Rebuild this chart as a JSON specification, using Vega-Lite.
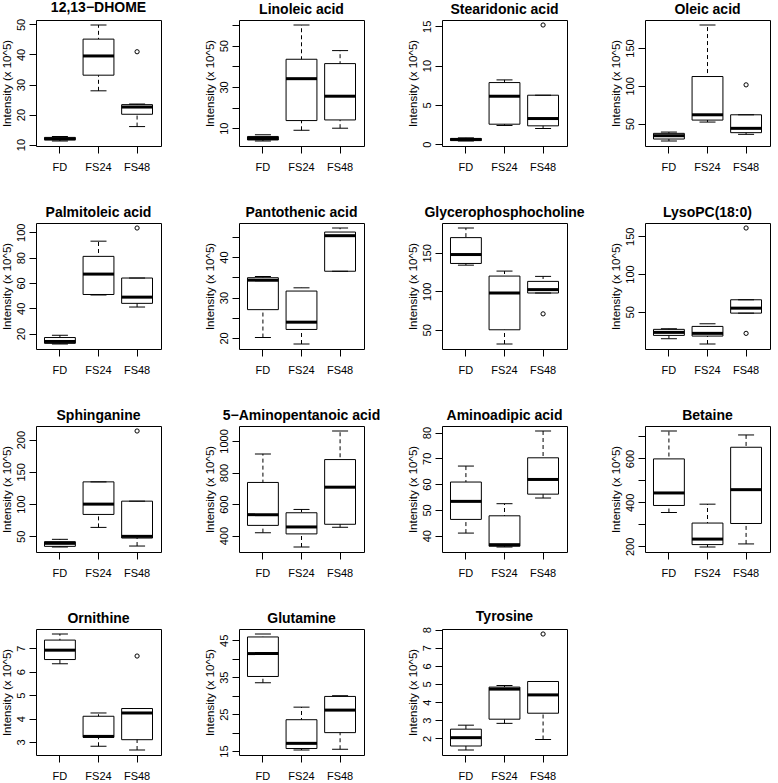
{
"$schema": "https://vega.github.io/schema/vega-lite/v6.json",
"background": "white",
"padding": {"left": 0, "top": 0, "right": 0, "bottom": 0},
"bounds": "flush",
"datasets": {
"boxes": [
{"m":"12,13−DHOME","g":"FD","lo":11.2,"q1":11.6,"med":11.9,"q3":12.4,"hi":12.7},
{"m":"12,13−DHOME","g":"FS24","lo":27.9,"q1":33.1,"med":39.5,"q3":45.1,"hi":49.8},
{"m":"12,13−DHOME","g":"FS48","lo":16.0,"q1":20.1,"med":22.5,"q3":23.3,"hi":23.5},
{"m":"Linoleic acid","g":"FD","lo":3.8,"q1":4.3,"med":5.0,"q3":6.0,"hi":6.8},
{"m":"Linoleic acid","g":"FS24","lo":9.0,"q1":13.7,"med":34.0,"q3":43.4,"hi":60.0},
{"m":"Linoleic acid","g":"FS48","lo":10.0,"q1":14.0,"med":25.5,"q3":41.3,"hi":47.6},
{"m":"Stearidonic acid","g":"FD","lo":0.4,"q1":0.45,"med":0.6,"q3":0.72,"hi":0.8},
{"m":"Stearidonic acid","g":"FS24","lo":2.37,"q1":2.54,"med":6.1,"q3":7.84,"hi":8.18},
{"m":"Stearidonic acid","g":"FS48","lo":1.99,"q1":2.33,"med":3.26,"q3":6.23,"hi":6.23},
{"m":"Oleic acid","g":"FD","lo":27.2,"q1":29.8,"med":34.2,"q3":37.3,"hi":39.0},
{"m":"Oleic acid","g":"FS24","lo":52.2,"q1":54.8,"med":61.8,"q3":112.3,"hi":180.3},
{"m":"Oleic acid","g":"FS48","lo":36.0,"q1":38.2,"med":43.9,"q3":61.8,"hi":61.8},
{"m":"Palmitoleic acid","g":"FD","lo":11.8,"q1":12.3,"med":13.8,"q3":16.9,"hi":18.7},
{"m":"Palmitoleic acid","g":"FS24","lo":50.5,"q1":50.9,"med":67.0,"q3":81.0,"hi":93.0},
{"m":"Palmitoleic acid","g":"FS48","lo":41.0,"q1":43.9,"med":48.8,"q3":63.9,"hi":63.9},
{"m":"Pantothenic acid","g":"FD","lo":20.1,"q1":27.0,"med":34.3,"q3":34.9,"hi":35.2},
{"m":"Pantothenic acid","g":"FS24","lo":18.5,"q1":22.1,"med":23.9,"q3":31.6,"hi":32.4},
{"m":"Pantothenic acid","g":"FS48","lo":36.5,"q1":36.5,"med":45.3,"q3":46.2,"hi":47.2},
{"m":"Glycerophosphocholine","g":"FD","lo":134,"q1":136.2,"med":147.8,"q3":169.8,"hi":182.3},
{"m":"Glycerophosphocholine","g":"FS24","lo":31.5,"q1":50,"med":97.8,"q3":119.8,"hi":126.3},
{"m":"Glycerophosphocholine","g":"FS48","lo":97.8,"q1":97.8,"med":102.2,"q3":112.9,"hi":119.4},
{"m":"LysoPC(18:0)","g":"FD","lo":14.3,"q1":18.7,"med":22.7,"q3":26.7,"hi":27.5},
{"m":"LysoPC(18:0)","g":"FS24","lo":7.3,"q1":17.8,"med":21.4,"q3":30.6,"hi":34.1},
{"m":"LysoPC(18:0)","g":"FS48","lo":48.2,"q1":48.2,"med":54.8,"q3":65.9,"hi":65.9},
{"m":"Sphinganine","g":"FD","lo":33.5,"q1":34.5,"med":39.2,"q3":41.8,"hi":45.4},
{"m":"Sphinganine","g":"FS24","lo":63.9,"q1":84,"med":100,"q3":134.5,"hi":134.5},
{"m":"Sphinganine","g":"FS48","lo":35,"q1":47.4,"med":50,"q3":104.6,"hi":104.6},
{"m":"5−Aminopentanoic acid","g":"FD","lo":419,"q1":465,"med":533,"q3":737,"hi":918},
{"m":"5−Aminopentanoic acid","g":"FS24","lo":328,"q1":411,"med":455,"q3":545,"hi":566},
{"m":"5−Aminopentanoic acid","g":"FS48","lo":453,"q1":472,"med":707,"q3":882,"hi":1063},
{"m":"Aminoadipic acid","g":"FD","lo":41.0,"q1":46.3,"med":53.3,"q3":60.8,"hi":67.0},
{"m":"Aminoadipic acid","g":"FS24","lo":35.6,"q1":35.9,"med":36.5,"q3":47.7,"hi":52.4},
{"m":"Aminoadipic acid","g":"FS48","lo":54.6,"q1":56.1,"med":61.8,"q3":70.2,"hi":80.6},
{"m":"Betaine","g":"FD","lo":354,"q1":386,"med":443,"q3":598,"hi":725},
{"m":"Betaine","g":"FS24","lo":197,"q1":208,"med":233,"q3":306,"hi":392},
{"m":"Betaine","g":"FS48","lo":211,"q1":304,"med":458,"q3":651,"hi":707},
{"m":"Ornithine","g":"FD","lo":6.34,"q1":6.52,"med":6.92,"q3":7.35,"hi":7.61},
{"m":"Ornithine","g":"FS24","lo":2.82,"q1":3.2,"med":3.24,"q3":4.1,"hi":4.24},
{"m":"Ornithine","g":"FS48","lo":2.66,"q1":3.1,"med":4.24,"q3":4.43,"hi":4.43},
{"m":"Glutamine","g":"FD","lo":33.5,"q1":35.2,"med":41.4,"q3":45.9,"hi":46.7},
{"m":"Glutamine","g":"FS24","lo":15.3,"q1":15.7,"med":17.1,"q3":23.5,"hi":26.9},
{"m":"Glutamine","g":"FS48","lo":15.5,"q1":20.0,"med":26.1,"q3":29.8,"hi":30.0},
{"m":"Tyrosine","g":"FD","lo":1.36,"q1":1.58,"med":2.04,"q3":2.51,"hi":2.73},
{"m":"Tyrosine","g":"FS24","lo":2.83,"q1":3.06,"med":4.72,"q3":4.83,"hi":4.92},
{"m":"Tyrosine","g":"FS48","lo":1.94,"q1":3.39,"med":4.4,"q3":5.14,"hi":5.14}
],
"outl": [
{"m":"12,13−DHOME","g":"FS48","out":40.9},
{"m":"Stearidonic acid","g":"FS48","out":15.17},
{"m":"Oleic acid","g":"FS48","out":101.3},
{"m":"Palmitoleic acid","g":"FS48","out":103.4},
{"m":"Glycerophosphocholine","g":"FS48","out":70.7},
{"m":"LysoPC(18:0)","g":"FS48","out":161},
{"m":"LysoPC(18:0)","g":"FS48","out":21.4},
{"m":"Sphinganine","g":"FS48","out":213.4},
{"m":"Ornithine","g":"FS48","out":6.67},
{"m":"Tyrosine","g":"FS48","out":7.76}
]
},
"data": {"name": "boxes"},
"columns": 4,
"spacing": {"row": 77, "column": 78},
"resolve": {"scale": {"x": "independent", "y": "independent"}},
"concat": [
{"title":"12,13−DHOME","width":125,"height":126,"transform":[{"filter":"datum.m==='12,13−DHOME'"}],
 "encoding":{"x":{"field":"g","type":"nominal","scale":{"type":"band","paddingInner":0,"paddingOuter":0.12},"axis":{"title":null}}},
 "layer":[
  {"mark":{"type":"rule","strokeDash":[4,3],"color":"black"},"encoding":{"y":{"field":"lo","type":"quantitative","scale":{"zero":false,"nice":false,"padding":5},"axis":{"values":[10,20,30,40,50],"format":"d","title":"Intensity (x 10^5)"}},"y2":{"field":"hi"}}},
  {"mark":{"type":"bar","fill":"white","stroke":"black","strokeWidth":1,"opacity":1,"width":{"band":0.8}},"encoding":{"y":{"field":"q1","type":"quantitative"},"y2":{"field":"q3"}}},
  {"mark":{"type":"tick","color":"black","opacity":1,"thickness":3,"size":31},"encoding":{"y":{"field":"med","type":"quantitative"}}},
  {"mark":{"type":"tick","color":"black","opacity":1,"thickness":1,"size":16},"encoding":{"y":{"field":"lo","type":"quantitative"}}},
  {"mark":{"type":"tick","color":"black","opacity":1,"thickness":1,"size":16},"encoding":{"y":{"field":"hi","type":"quantitative"}}},
  {"data":{"name":"outl"},"transform":[{"filter":"datum.m==='12,13−DHOME'"}],"mark":{"type":"point","shape":"circle","filled":false,"color":"black","opacity":1,"size":18,"strokeWidth":1},"encoding":{"y":{"field":"out","type":"quantitative"}}}
 ]},
{"title":"Linoleic acid","width":125,"height":126,"transform":[{"filter":"datum.m==='Linoleic acid'"}],
 "encoding":{"x":{"field":"g","type":"nominal","scale":{"type":"band","paddingInner":0,"paddingOuter":0.12},"axis":{"title":null}}},
 "layer":[
  {"mark":{"type":"rule","strokeDash":[4,3],"color":"black"},"encoding":{"y":{"field":"lo","type":"quantitative","scale":{"zero":false,"nice":false,"padding":5},"axis":{"values":[10,20,30,40,50,60],"format":"d","labelExpr":"datum.value % 20 == 10 ? datum.label : ''","title":"Intensity (x 10^5)"}},"y2":{"field":"hi"}}},
  {"mark":{"type":"bar","fill":"white","stroke":"black","strokeWidth":1,"opacity":1,"width":{"band":0.8}},"encoding":{"y":{"field":"q1","type":"quantitative"},"y2":{"field":"q3"}}},
  {"mark":{"type":"tick","color":"black","opacity":1,"thickness":3,"size":31},"encoding":{"y":{"field":"med","type":"quantitative"}}},
  {"mark":{"type":"tick","color":"black","opacity":1,"thickness":1,"size":16},"encoding":{"y":{"field":"lo","type":"quantitative"}}},
  {"mark":{"type":"tick","color":"black","opacity":1,"thickness":1,"size":16},"encoding":{"y":{"field":"hi","type":"quantitative"}}}
 ]},
{"title":"Stearidonic acid","width":125,"height":126,"transform":[{"filter":"datum.m==='Stearidonic acid'"}],
 "encoding":{"x":{"field":"g","type":"nominal","scale":{"type":"band","paddingInner":0,"paddingOuter":0.12},"axis":{"title":null}}},
 "layer":[
  {"mark":{"type":"rule","strokeDash":[4,3],"color":"black"},"encoding":{"y":{"field":"lo","type":"quantitative","scale":{"zero":false,"nice":false,"padding":5},"axis":{"values":[0,5,10,15],"format":"d","title":"Intensity (x 10^5)"}},"y2":{"field":"hi"}}},
  {"mark":{"type":"bar","fill":"white","stroke":"black","strokeWidth":1,"opacity":1,"width":{"band":0.8}},"encoding":{"y":{"field":"q1","type":"quantitative"},"y2":{"field":"q3"}}},
  {"mark":{"type":"tick","color":"black","opacity":1,"thickness":3,"size":31},"encoding":{"y":{"field":"med","type":"quantitative"}}},
  {"mark":{"type":"tick","color":"black","opacity":1,"thickness":1,"size":16},"encoding":{"y":{"field":"lo","type":"quantitative"}}},
  {"mark":{"type":"tick","color":"black","opacity":1,"thickness":1,"size":16},"encoding":{"y":{"field":"hi","type":"quantitative"}}},
  {"data":{"name":"outl"},"transform":[{"filter":"datum.m==='Stearidonic acid'"}],"mark":{"type":"point","shape":"circle","filled":false,"color":"black","opacity":1,"size":18,"strokeWidth":1},"encoding":{"y":{"field":"out","type":"quantitative"}}}
 ]},
{"title":"Oleic acid","width":125,"height":126,"transform":[{"filter":"datum.m==='Oleic acid'"}],
 "encoding":{"x":{"field":"g","type":"nominal","scale":{"type":"band","paddingInner":0,"paddingOuter":0.12},"axis":{"title":null}}},
 "layer":[
  {"mark":{"type":"rule","strokeDash":[4,3],"color":"black"},"encoding":{"y":{"field":"lo","type":"quantitative","scale":{"zero":false,"nice":false,"padding":5},"axis":{"values":[50,100,150],"format":"d","title":"Intensity (x 10^5)"}},"y2":{"field":"hi"}}},
  {"mark":{"type":"bar","fill":"white","stroke":"black","strokeWidth":1,"opacity":1,"width":{"band":0.8}},"encoding":{"y":{"field":"q1","type":"quantitative"},"y2":{"field":"q3"}}},
  {"mark":{"type":"tick","color":"black","opacity":1,"thickness":3,"size":31},"encoding":{"y":{"field":"med","type":"quantitative"}}},
  {"mark":{"type":"tick","color":"black","opacity":1,"thickness":1,"size":16},"encoding":{"y":{"field":"lo","type":"quantitative"}}},
  {"mark":{"type":"tick","color":"black","opacity":1,"thickness":1,"size":16},"encoding":{"y":{"field":"hi","type":"quantitative"}}},
  {"data":{"name":"outl"},"transform":[{"filter":"datum.m==='Oleic acid'"}],"mark":{"type":"point","shape":"circle","filled":false,"color":"black","opacity":1,"size":18,"strokeWidth":1},"encoding":{"y":{"field":"out","type":"quantitative"}}}
 ]},
{"title":"Palmitoleic acid","width":125,"height":126,"transform":[{"filter":"datum.m==='Palmitoleic acid'"}],
 "encoding":{"x":{"field":"g","type":"nominal","scale":{"type":"band","paddingInner":0,"paddingOuter":0.12},"axis":{"title":null}}},
 "layer":[
  {"mark":{"type":"rule","strokeDash":[4,3],"color":"black"},"encoding":{"y":{"field":"lo","type":"quantitative","scale":{"zero":false,"nice":false,"padding":5},"axis":{"values":[20,40,60,80,100],"format":"d","title":"Intensity (x 10^5)"}},"y2":{"field":"hi"}}},
  {"mark":{"type":"bar","fill":"white","stroke":"black","strokeWidth":1,"opacity":1,"width":{"band":0.8}},"encoding":{"y":{"field":"q1","type":"quantitative"},"y2":{"field":"q3"}}},
  {"mark":{"type":"tick","color":"black","opacity":1,"thickness":3,"size":31},"encoding":{"y":{"field":"med","type":"quantitative"}}},
  {"mark":{"type":"tick","color":"black","opacity":1,"thickness":1,"size":16},"encoding":{"y":{"field":"lo","type":"quantitative"}}},
  {"mark":{"type":"tick","color":"black","opacity":1,"thickness":1,"size":16},"encoding":{"y":{"field":"hi","type":"quantitative"}}},
  {"data":{"name":"outl"},"transform":[{"filter":"datum.m==='Palmitoleic acid'"}],"mark":{"type":"point","shape":"circle","filled":false,"color":"black","opacity":1,"size":18,"strokeWidth":1},"encoding":{"y":{"field":"out","type":"quantitative"}}}
 ]},
{"title":"Pantothenic acid","width":125,"height":126,"transform":[{"filter":"datum.m==='Pantothenic acid'"}],
 "encoding":{"x":{"field":"g","type":"nominal","scale":{"type":"band","paddingInner":0,"paddingOuter":0.12},"axis":{"title":null}}},
 "layer":[
  {"mark":{"type":"rule","strokeDash":[4,3],"color":"black"},"encoding":{"y":{"field":"lo","type":"quantitative","scale":{"zero":false,"nice":false,"padding":5},"axis":{"values":[20,25,30,35,40,45],"format":"d","labelExpr":"datum.value % 10 == 0 ? datum.label : ''","title":"Intensity (x 10^5)"}},"y2":{"field":"hi"}}},
  {"mark":{"type":"bar","fill":"white","stroke":"black","strokeWidth":1,"opacity":1,"width":{"band":0.8}},"encoding":{"y":{"field":"q1","type":"quantitative"},"y2":{"field":"q3"}}},
  {"mark":{"type":"tick","color":"black","opacity":1,"thickness":3,"size":31},"encoding":{"y":{"field":"med","type":"quantitative"}}},
  {"mark":{"type":"tick","color":"black","opacity":1,"thickness":1,"size":16},"encoding":{"y":{"field":"lo","type":"quantitative"}}},
  {"mark":{"type":"tick","color":"black","opacity":1,"thickness":1,"size":16},"encoding":{"y":{"field":"hi","type":"quantitative"}}}
 ]},
{"title":"Glycerophosphocholine","width":125,"height":126,"transform":[{"filter":"datum.m==='Glycerophosphocholine'"}],
 "encoding":{"x":{"field":"g","type":"nominal","scale":{"type":"band","paddingInner":0,"paddingOuter":0.12},"axis":{"title":null}}},
 "layer":[
  {"mark":{"type":"rule","strokeDash":[4,3],"color":"black"},"encoding":{"y":{"field":"lo","type":"quantitative","scale":{"zero":false,"nice":false,"padding":5},"axis":{"values":[50,100,150],"format":"d","title":"Intensity (x 10^5)"}},"y2":{"field":"hi"}}},
  {"mark":{"type":"bar","fill":"white","stroke":"black","strokeWidth":1,"opacity":1,"width":{"band":0.8}},"encoding":{"y":{"field":"q1","type":"quantitative"},"y2":{"field":"q3"}}},
  {"mark":{"type":"tick","color":"black","opacity":1,"thickness":3,"size":31},"encoding":{"y":{"field":"med","type":"quantitative"}}},
  {"mark":{"type":"tick","color":"black","opacity":1,"thickness":1,"size":16},"encoding":{"y":{"field":"lo","type":"quantitative"}}},
  {"mark":{"type":"tick","color":"black","opacity":1,"thickness":1,"size":16},"encoding":{"y":{"field":"hi","type":"quantitative"}}},
  {"data":{"name":"outl"},"transform":[{"filter":"datum.m==='Glycerophosphocholine'"}],"mark":{"type":"point","shape":"circle","filled":false,"color":"black","opacity":1,"size":18,"strokeWidth":1},"encoding":{"y":{"field":"out","type":"quantitative"}}}
 ]},
{"title":"LysoPC(18:0)","width":125,"height":126,"transform":[{"filter":"datum.m==='LysoPC(18:0)'"}],
 "encoding":{"x":{"field":"g","type":"nominal","scale":{"type":"band","paddingInner":0,"paddingOuter":0.12},"axis":{"title":null}}},
 "layer":[
  {"mark":{"type":"rule","strokeDash":[4,3],"color":"black"},"encoding":{"y":{"field":"lo","type":"quantitative","scale":{"zero":false,"nice":false,"padding":5},"axis":{"values":[50,100,150],"format":"d","title":"Intensity (x 10^5)"}},"y2":{"field":"hi"}}},
  {"mark":{"type":"bar","fill":"white","stroke":"black","strokeWidth":1,"opacity":1,"width":{"band":0.8}},"encoding":{"y":{"field":"q1","type":"quantitative"},"y2":{"field":"q3"}}},
  {"mark":{"type":"tick","color":"black","opacity":1,"thickness":3,"size":31},"encoding":{"y":{"field":"med","type":"quantitative"}}},
  {"mark":{"type":"tick","color":"black","opacity":1,"thickness":1,"size":16},"encoding":{"y":{"field":"lo","type":"quantitative"}}},
  {"mark":{"type":"tick","color":"black","opacity":1,"thickness":1,"size":16},"encoding":{"y":{"field":"hi","type":"quantitative"}}},
  {"data":{"name":"outl"},"transform":[{"filter":"datum.m==='LysoPC(18:0)'"}],"mark":{"type":"point","shape":"circle","filled":false,"color":"black","opacity":1,"size":18,"strokeWidth":1},"encoding":{"y":{"field":"out","type":"quantitative"}}}
 ]},
{"title":"Sphinganine","width":125,"height":126,"transform":[{"filter":"datum.m==='Sphinganine'"}],
 "encoding":{"x":{"field":"g","type":"nominal","scale":{"type":"band","paddingInner":0,"paddingOuter":0.12},"axis":{"title":null}}},
 "layer":[
  {"mark":{"type":"rule","strokeDash":[4,3],"color":"black"},"encoding":{"y":{"field":"lo","type":"quantitative","scale":{"zero":false,"nice":false,"padding":5},"axis":{"values":[50,100,150,200],"format":"d","title":"Intensity (x 10^5)"}},"y2":{"field":"hi"}}},
  {"mark":{"type":"bar","fill":"white","stroke":"black","strokeWidth":1,"opacity":1,"width":{"band":0.8}},"encoding":{"y":{"field":"q1","type":"quantitative"},"y2":{"field":"q3"}}},
  {"mark":{"type":"tick","color":"black","opacity":1,"thickness":3,"size":31},"encoding":{"y":{"field":"med","type":"quantitative"}}},
  {"mark":{"type":"tick","color":"black","opacity":1,"thickness":1,"size":16},"encoding":{"y":{"field":"lo","type":"quantitative"}}},
  {"mark":{"type":"tick","color":"black","opacity":1,"thickness":1,"size":16},"encoding":{"y":{"field":"hi","type":"quantitative"}}},
  {"data":{"name":"outl"},"transform":[{"filter":"datum.m==='Sphinganine'"}],"mark":{"type":"point","shape":"circle","filled":false,"color":"black","opacity":1,"size":18,"strokeWidth":1},"encoding":{"y":{"field":"out","type":"quantitative"}}}
 ]},
{"title":"5−Aminopentanoic acid","width":125,"height":126,"transform":[{"filter":"datum.m==='5−Aminopentanoic acid'"}],
 "encoding":{"x":{"field":"g","type":"nominal","scale":{"type":"band","paddingInner":0,"paddingOuter":0.12},"axis":{"title":null}}},
 "layer":[
  {"mark":{"type":"rule","strokeDash":[4,3],"color":"black"},"encoding":{"y":{"field":"lo","type":"quantitative","scale":{"zero":false,"nice":false,"padding":5},"axis":{"values":[400,600,800,1000],"format":"d","title":"Intensity (x 10^5)"}},"y2":{"field":"hi"}}},
  {"mark":{"type":"bar","fill":"white","stroke":"black","strokeWidth":1,"opacity":1,"width":{"band":0.8}},"encoding":{"y":{"field":"q1","type":"quantitative"},"y2":{"field":"q3"}}},
  {"mark":{"type":"tick","color":"black","opacity":1,"thickness":3,"size":31},"encoding":{"y":{"field":"med","type":"quantitative"}}},
  {"mark":{"type":"tick","color":"black","opacity":1,"thickness":1,"size":16},"encoding":{"y":{"field":"lo","type":"quantitative"}}},
  {"mark":{"type":"tick","color":"black","opacity":1,"thickness":1,"size":16},"encoding":{"y":{"field":"hi","type":"quantitative"}}}
 ]},
{"title":"Aminoadipic acid","width":125,"height":126,"transform":[{"filter":"datum.m==='Aminoadipic acid'"}],
 "encoding":{"x":{"field":"g","type":"nominal","scale":{"type":"band","paddingInner":0,"paddingOuter":0.12},"axis":{"title":null}}},
 "layer":[
  {"mark":{"type":"rule","strokeDash":[4,3],"color":"black"},"encoding":{"y":{"field":"lo","type":"quantitative","scale":{"zero":false,"nice":false,"padding":5},"axis":{"values":[40,50,60,70,80],"format":"d","title":"Intensity (x 10^5)"}},"y2":{"field":"hi"}}},
  {"mark":{"type":"bar","fill":"white","stroke":"black","strokeWidth":1,"opacity":1,"width":{"band":0.8}},"encoding":{"y":{"field":"q1","type":"quantitative"},"y2":{"field":"q3"}}},
  {"mark":{"type":"tick","color":"black","opacity":1,"thickness":3,"size":31},"encoding":{"y":{"field":"med","type":"quantitative"}}},
  {"mark":{"type":"tick","color":"black","opacity":1,"thickness":1,"size":16},"encoding":{"y":{"field":"lo","type":"quantitative"}}},
  {"mark":{"type":"tick","color":"black","opacity":1,"thickness":1,"size":16},"encoding":{"y":{"field":"hi","type":"quantitative"}}}
 ]},
{"title":"Betaine","width":125,"height":126,"transform":[{"filter":"datum.m==='Betaine'"}],
 "encoding":{"x":{"field":"g","type":"nominal","scale":{"type":"band","paddingInner":0,"paddingOuter":0.12},"axis":{"title":null}}},
 "layer":[
  {"mark":{"type":"rule","strokeDash":[4,3],"color":"black"},"encoding":{"y":{"field":"lo","type":"quantitative","scale":{"zero":false,"nice":false,"padding":5},"axis":{"values":[200,300,400,500,600,700],"format":"d","labelExpr":"datum.value % 200 == 0 ? datum.label : ''","title":"Intensity (x 10^5)"}},"y2":{"field":"hi"}}},
  {"mark":{"type":"bar","fill":"white","stroke":"black","strokeWidth":1,"opacity":1,"width":{"band":0.8}},"encoding":{"y":{"field":"q1","type":"quantitative"},"y2":{"field":"q3"}}},
  {"mark":{"type":"tick","color":"black","opacity":1,"thickness":3,"size":31},"encoding":{"y":{"field":"med","type":"quantitative"}}},
  {"mark":{"type":"tick","color":"black","opacity":1,"thickness":1,"size":16},"encoding":{"y":{"field":"lo","type":"quantitative"}}},
  {"mark":{"type":"tick","color":"black","opacity":1,"thickness":1,"size":16},"encoding":{"y":{"field":"hi","type":"quantitative"}}}
 ]},
{"title":"Ornithine","width":125,"height":126,"transform":[{"filter":"datum.m==='Ornithine'"}],
 "encoding":{"x":{"field":"g","type":"nominal","scale":{"type":"band","paddingInner":0,"paddingOuter":0.12},"axis":{"title":null}}},
 "layer":[
  {"mark":{"type":"rule","strokeDash":[4,3],"color":"black"},"encoding":{"y":{"field":"lo","type":"quantitative","scale":{"zero":false,"nice":false,"padding":5},"axis":{"values":[3,4,5,6,7],"format":"d","title":"Intensity (x 10^5)"}},"y2":{"field":"hi"}}},
  {"mark":{"type":"bar","fill":"white","stroke":"black","strokeWidth":1,"opacity":1,"width":{"band":0.8}},"encoding":{"y":{"field":"q1","type":"quantitative"},"y2":{"field":"q3"}}},
  {"mark":{"type":"tick","color":"black","opacity":1,"thickness":3,"size":31},"encoding":{"y":{"field":"med","type":"quantitative"}}},
  {"mark":{"type":"tick","color":"black","opacity":1,"thickness":1,"size":16},"encoding":{"y":{"field":"lo","type":"quantitative"}}},
  {"mark":{"type":"tick","color":"black","opacity":1,"thickness":1,"size":16},"encoding":{"y":{"field":"hi","type":"quantitative"}}},
  {"data":{"name":"outl"},"transform":[{"filter":"datum.m==='Ornithine'"}],"mark":{"type":"point","shape":"circle","filled":false,"color":"black","opacity":1,"size":18,"strokeWidth":1},"encoding":{"y":{"field":"out","type":"quantitative"}}}
 ]},
{"title":"Glutamine","width":125,"height":126,"transform":[{"filter":"datum.m==='Glutamine'"}],
 "encoding":{"x":{"field":"g","type":"nominal","scale":{"type":"band","paddingInner":0,"paddingOuter":0.12},"axis":{"title":null}}},
 "layer":[
  {"mark":{"type":"rule","strokeDash":[4,3],"color":"black"},"encoding":{"y":{"field":"lo","type":"quantitative","scale":{"zero":false,"nice":false,"padding":5},"axis":{"values":[15,20,25,30,35,40,45],"format":"d","labelExpr":"datum.value % 10 == 5 ? datum.label : ''","title":"Intensity (x 10^5)"}},"y2":{"field":"hi"}}},
  {"mark":{"type":"bar","fill":"white","stroke":"black","strokeWidth":1,"opacity":1,"width":{"band":0.8}},"encoding":{"y":{"field":"q1","type":"quantitative"},"y2":{"field":"q3"}}},
  {"mark":{"type":"tick","color":"black","opacity":1,"thickness":3,"size":31},"encoding":{"y":{"field":"med","type":"quantitative"}}},
  {"mark":{"type":"tick","color":"black","opacity":1,"thickness":1,"size":16},"encoding":{"y":{"field":"lo","type":"quantitative"}}},
  {"mark":{"type":"tick","color":"black","opacity":1,"thickness":1,"size":16},"encoding":{"y":{"field":"hi","type":"quantitative"}}}
 ]},
{"title":"Tyrosine","width":125,"height":126,"transform":[{"filter":"datum.m==='Tyrosine'"}],
 "encoding":{"x":{"field":"g","type":"nominal","scale":{"type":"band","paddingInner":0,"paddingOuter":0.12},"axis":{"title":null}}},
 "layer":[
  {"mark":{"type":"rule","strokeDash":[4,3],"color":"black"},"encoding":{"y":{"field":"lo","type":"quantitative","scale":{"zero":false,"nice":false,"padding":5},"axis":{"values":[2,3,4,5,6,7,8],"format":"d","title":"Intensity (x 10^5)"}},"y2":{"field":"hi"}}},
  {"mark":{"type":"bar","fill":"white","stroke":"black","strokeWidth":1,"opacity":1,"width":{"band":0.8}},"encoding":{"y":{"field":"q1","type":"quantitative"},"y2":{"field":"q3"}}},
  {"mark":{"type":"tick","color":"black","opacity":1,"thickness":3,"size":31},"encoding":{"y":{"field":"med","type":"quantitative"}}},
  {"mark":{"type":"tick","color":"black","opacity":1,"thickness":1,"size":16},"encoding":{"y":{"field":"lo","type":"quantitative"}}},
  {"mark":{"type":"tick","color":"black","opacity":1,"thickness":1,"size":16},"encoding":{"y":{"field":"hi","type":"quantitative"}}},
  {"data":{"name":"outl"},"transform":[{"filter":"datum.m==='Tyrosine'"}],"mark":{"type":"point","shape":"circle","filled":false,"color":"black","opacity":1,"size":18,"strokeWidth":1},"encoding":{"y":{"field":"out","type":"quantitative"}}}
 ]}
],
"config": {
 "font": "Liberation Sans",
 "view": {"stroke": "black", "strokeWidth": 1},
 "title": {"fontSize": 14, "fontWeight": "bold", "color": "black", "anchor": "middle", "frame": "group", "offset": 3, "font": "Liberation Sans"},
 "axis": {"grid": false, "domain": false, "tickColor": "black", "tickSize": 7, "labelColor": "black", "labelFont": "Liberation Sans", "labelFontSize": 11, "titleFont": "Liberation Sans", "titleFontWeight": "normal", "titleColor": "black", "titleFontSize": 11.5, "labelOverlap": false},
 "axisX": {"labelAngle": 0, "labelPadding": 8},
 "axisY": {"labelAngle": -90, "labelAlign": "center", "labelBaseline": "bottom", "labelPadding": 3, "titlePadding": 3, "labelOverlap": false, "tickCount": 20}
}
}
